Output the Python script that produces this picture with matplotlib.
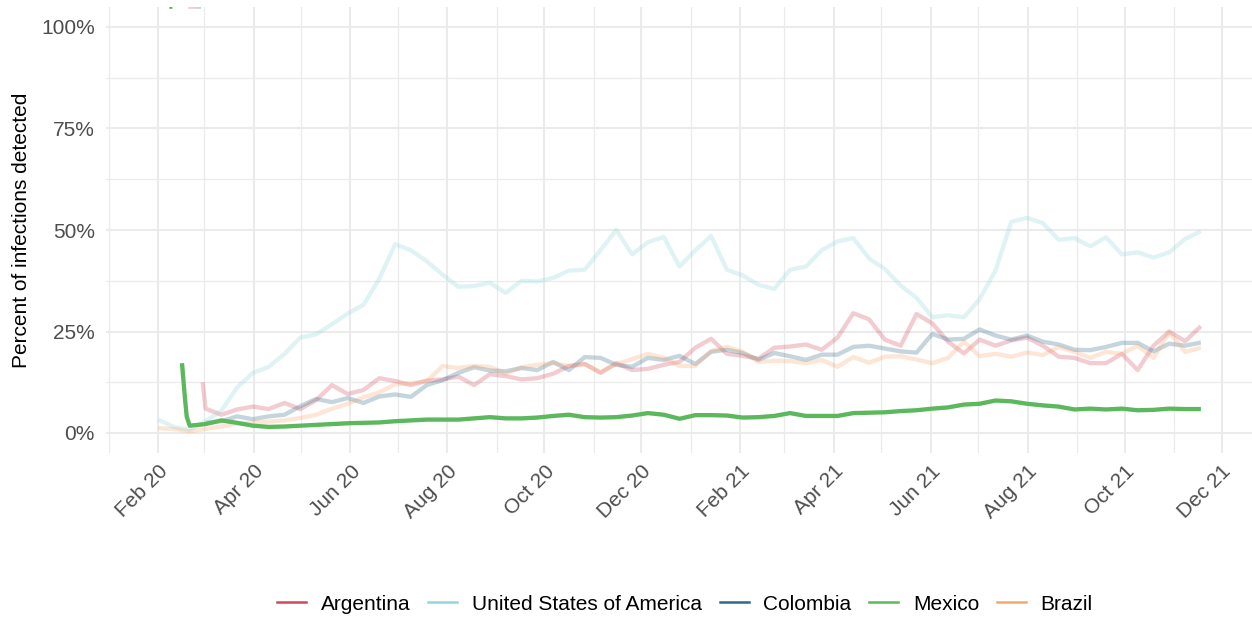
import numpy as np
import pandas as pd
import matplotlib
matplotlib.use("Agg")
import matplotlib.pyplot as plt
import matplotlib.dates as mdates
from matplotlib.lines import Line2D
from matplotlib.ticker import PercentFormatter, FixedLocator

plt.rcParams['font.family'] = ['Liberation Sans', 'DejaVu Sans']

nan = np.nan

# evenly spaced sample days (about every 10 days) over the observed period
dates = pd.date_range('2020-02-01', '2021-11-18', periods=67)

countries = ['Argentina', 'United States of America', 'Colombia', 'Mexico', 'Brazil']
colors = ['#d1495b', '#8fd6de', '#2e6a8a', '#5cb85c', '#f9a66c']

# percent of infections detected
argentina = [nan, nan, nan, 6.0, 4.5, 5.8, 6.5, 5.9, 7.4, 5.9, 8.1, 11.8, 9.6, 10.6,
             13.5, 12.8, 11.8, 12.9, 13.2, 13.9, 11.8, 14.5, 14.0, 13.2, 13.5, 14.6, 16.5,
             17.0, 14.8, 17.2, 15.5, 15.8, 16.8, 17.5, 21.0, 23.2, 19.5, 19.0, 18.3, 21.0, 21.3,
             21.8, 20.5, 23.5, 29.5, 28.0, 23.0, 21.5, 29.3, 27.0, 22.5, 19.6, 23.0, 21.5,
             22.8, 23.5, 21.5, 18.8, 18.5, 17.2, 17.2, 19.5, 15.5, 21.5, 25.0, 22.6, 26.3]
usa = [3.3, 1.5, 0.8, 2.9, 5.5, 11.2, 14.8, 16.3, 19.5, 23.5, 24.3, 26.8, 29.4, 31.6,
       38.0, 46.5, 45.0, 42.3, 39.0, 36.0, 36.2, 37.0, 34.5, 37.5, 37.3, 38.2, 40.0,
       40.2, 45.0, 50.0, 44.0, 47.0, 48.3, 41.0, 45.0, 48.5, 40.2, 38.8, 36.5, 35.5, 40.2,
       41.0, 45.0, 47.2, 48.0, 43.0, 40.4, 36.3, 33.3, 28.5, 29.0, 28.5, 33.0, 40.0,
       52.0, 53.0, 51.7, 47.6, 48.0, 46.0, 48.2, 44.0, 44.5, 43.2, 44.5, 47.8, 49.7]
colombia = [nan, nan, nan, 2.5, 2.9, 4.1, 3.4, 4.1, 4.5, 6.6, 8.4, 7.6, 8.6, 7.4,
            9.0, 9.5, 8.9, 11.8, 13.0, 14.8, 16.2, 15.4, 15.2, 16.0, 15.5, 17.5, 15.5,
            18.7, 18.5, 16.8, 16.3, 18.5, 18.0, 19.0, 17.0, 20.0, 20.5, 19.7, 18.0, 19.7, 18.9,
            18.0, 19.3, 19.3, 21.2, 21.5, 20.8, 20.1, 19.8, 24.4, 23.0, 23.2, 25.5, 24.0,
            23.0, 24.0, 22.5, 21.8, 20.5, 20.4, 21.2, 22.2, 22.2, 20.1, 22.0, 21.5, 22.3]
mexico = [nan, nan, 1.8, 2.2, 3.1, 2.5, 1.8, 1.5, 1.6, 1.8, 2.0, 2.2, 2.4, 2.5,
          2.6, 2.9, 3.1, 3.3, 3.3, 3.3, 3.6, 3.9, 3.6, 3.6, 3.8, 4.2, 4.5,
          3.9, 3.8, 3.9, 4.3, 4.9, 4.5, 3.5, 4.4, 4.4, 4.3, 3.8, 3.9, 4.2, 4.9,
          4.2, 4.2, 4.2, 4.9, 5.0, 5.1, 5.4, 5.6, 6.0, 6.3, 7.0, 7.2, 8.0,
          7.8, 7.2, 6.8, 6.5, 5.8, 6.0, 5.8, 6.0, 5.6, 5.7, 6.0, 5.9, 5.9]
brazil = [1.2, 1.0, 0.4, 1.0, 1.6, 2.3, 2.5, 2.8, 3.1, 3.7, 4.5, 6.0, 7.2, 8.8,
          10.0, 12.0, 12.3, 12.7, 16.5, 16.0, 16.5, 16.3, 14.6, 16.2, 16.8, 17.2, 16.5,
          17.0, 15.0, 17.0, 18.2, 19.5, 18.5, 16.5, 16.5, 20.2, 21.2, 20.0, 17.5, 17.8, 17.7,
          17.2, 18.0, 16.3, 18.7, 17.3, 18.8, 18.9, 18.1, 17.2, 18.5, 22.5, 18.9, 19.5,
          18.8, 19.8, 19.2, 21.2, 20.0, 18.5, 20.0, 19.5, 21.5, 18.5, 24.8, 20.0, 21.0]

# first days: values above the axis limit, then the sharp early drops
argentina_head_dates = ['2020-02-20', '2020-02-25', '2020-02-27', '2020-02-29']
argentina_head = [105, 105, nan, 12.5]
colombia_head_dates = ['2020-02-25', '2020-02-28', '2020-02-29']
colombia_head = [105, 105, nan]
mexico_head_dates = ['2020-02-08', '2020-02-10', '2020-02-13', '2020-02-16', '2020-02-18', '2020-02-19']
mexico_head = [105, 105, nan, 17.2, 8.0, 4.0]


def build(vals, head_dates=None, head_vals=None):
    s = pd.Series(vals, index=dates).dropna()
    if head_dates is not None:
        h = pd.Series(head_vals, index=pd.to_datetime(head_dates))
        s = pd.concat([h, s]).sort_index()
    return s


series = [build(argentina, argentina_head_dates, argentina_head),
          build(usa),
          build(colombia, colombia_head_dates, colombia_head),
          build(mexico, mexico_head_dates, mexico_head),
          build(brazil)]

fig = plt.figure(figsize=(12.52, 6.19), dpi=100)
ax = fig.add_axes([106 / 1252, 1 - 453.3 / 619, 1147 / 1252, 446.6 / 619])

order = [0, 1, 2, 4, 3]  # Mexico on top
for i in order:
    s = series[i]
    alpha = 1.0 if countries[i] == 'Mexico' else 0.28
    ax.plot(s.index, s.values, color=colors[i], lw=3.1, alpha=alpha,
            solid_capstyle='butt', solid_joinstyle='round', zorder=3)

pad = (dates[-1] - dates[0]) * 0.05
ax.set_xlim(dates[0] - pad, dates[-1] + pad)
ax.set_ylim(-5, 105)

ax.xaxis.set_major_locator(mdates.MonthLocator(bymonth=[2, 4, 6, 8, 10, 12]))
ax.xaxis.set_minor_locator(mdates.MonthLocator(bymonth=[1, 3, 5, 7, 9, 11]))
ax.xaxis.set_major_formatter(mdates.DateFormatter('%b %y'))
ax.yaxis.set_major_locator(FixedLocator([0, 25, 50, 75, 100]))
ax.yaxis.set_minor_locator(FixedLocator([12.5, 37.5, 62.5, 87.5]))
ax.yaxis.set_major_formatter(PercentFormatter(100, decimals=0))

ax.grid(which='major', color='#ebebeb', lw=1.5)
ax.grid(which='minor', color='#ebebeb', lw=0.9)
ax.set_axisbelow(True)
for sp in ax.spines.values():
    sp.set_visible(False)

ax.tick_params(which='both', length=0)
ax.tick_params(axis='y', labelsize=15, labelcolor='#4d4d4d', pad=8)
ax.tick_params(axis='x', labelsize=15, labelcolor='#4d4d4d', pad=6)
for lab in ax.get_xticklabels():
    lab.set_rotation(45)
    lab.set_ha('right')
    lab.set_va('top')
    lab.set_rotation_mode('anchor')

fig.text(22 / 1252, 1 - 230 / 619, 'Percent of infections detected', rotation=90,
         ha='center', va='center', fontsize=15)

handles = [Line2D([], [], color=c, lw=1.8) for c in colors]
fig.legend(handles, countries, loc='center', bbox_to_anchor=(685 / 1252, 1 - 604 / 619),
           ncol=5, frameon=False, fontsize=15, handlelength=1.4, handletextpad=0.7,
           columnspacing=0.85)

fig.savefig('out.png', dpi=100)
